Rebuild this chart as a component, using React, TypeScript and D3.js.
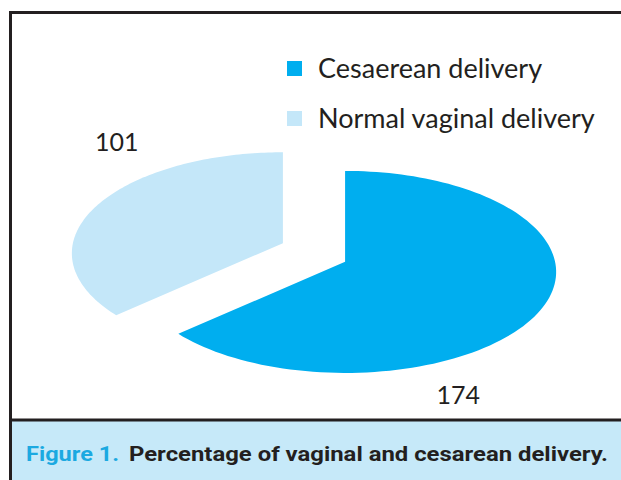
import React, { useEffect, useRef } from "react";
import * as d3 from "d3";

// chart values
const categories = ["Cesaerean delivery", "Normal vaginal delivery"];
const deliveries = [174, 101];
const sliceLabels = ["174", "101"];
const sliceColors = ["#00AEEF", "#C4E7F9"];

// label placement around each slice (angle in degrees, radius in slice radii)
const labelPolar = [
    { deg: 158, r: 1.27 },
    { deg: 322, r: 1.43 },
];

function App() {
    const chartRef = useRef<SVGSVGElement>(null);

    useEffect(() => {
        const w = 621;
        const h = 480;
        const svg = d3.select(chartRef.current);
        svg.selectAll("*").remove();

        // caption band + frame
        svg.append("rect").attr("x", 12).attr("y", 421).attr("width", w - 12).attr("height", h - 421).attr("fill", "#C6E9F9");
        svg.append("path").attr("d", `M10.5,${h} V12.5 H${w}`).attr("fill", "none").attr("stroke", "#231F20").attr("stroke-width", 3);
        svg.append("path").attr("d", `M9,420 H${w}`).attr("fill", "none").attr("stroke", "#231F20").attr("stroke-width", 3);

        // pie with a simple tilted / perspective projection
        const cx = 314;
        const cy = 252.5;
        const rx = 210;
        const ry = 100;
        const persp = 0.1;
        const explodeX = 34;
        const explodeY = 23;

        const pie = d3.pie<number>().sort(null).value(d => d);
        const arcs = pie(deliveries);

        const project = (ax: number, ay: number, a: number, r: number): [number, number] => {
            const ux = r * Math.sin(a);
            const uy = -r * Math.cos(a);
            const s = 1 / (1 - persp * uy);
            return [ax + rx * ux * s, ay + ry * uy * s];
        };
        const apexOf = (a: d3.PieArcDatum<number>): [number, number] => {
            const mid = (a.startAngle + a.endAngle) / 2;
            return [cx + explodeX * Math.sin(mid), cy - explodeY * Math.cos(mid)];
        };

        svg.append("clipPath").attr("id", "plotClip").append("rect").attr("x", 12).attr("y", 14).attr("width", 545).attr("height", 404);

        const line = d3.line();
        svg.append("g")
            .attr("clip-path", "url(#plotClip)")
            .selectAll("path")
            .data(arcs)
            .join("path")
            .attr("d", a => {
                const [ax, ay] = apexOf(a);
                const pts: [number, number][] = [[ax, ay]];
                d3.range(0, 121).forEach(i => {
                    pts.push(project(ax, ay, a.startAngle + ((a.endAngle - a.startAngle) * i) / 120, 1));
                });
                return line(pts) + "Z";
            })
            .attr("fill", (d, i) => sliceColors[i]);

        svg.append("g")
            .selectAll("text")
            .data(arcs)
            .join("text")
            .attr("transform", (a, i) => {
                const [ax, ay] = apexOf(a);
                const [x, y] = project(ax, ay, (labelPolar[i].deg * Math.PI) / 180, labelPolar[i].r);
                return `translate(${x},${y})`;
            })
            .attr("text-anchor", "middle")
            .attr("dy", "0.36em")
            .attr("font-family", "Lato, 'Open Sans', sans-serif")
            .attr("font-size", 25)
            .attr("fill", "#231F20")
            .text((d, i) => sliceLabels[i]);

        // legend
        const legendY = d3.scalePoint<string>().domain(categories).range([68.5, 118.5]);
        const legend = svg.append("g")
            .selectAll("g")
            .data(categories)
            .join("g")
            .attr("transform", d => `translate(287,${legendY(d)})`);
        legend.append("rect").attr("y", -7.5).attr("width", 15).attr("height", 15).attr("fill", (d, i) => sliceColors[i]);
        legend.append("text")
            .attr("x", 31)
            .attr("y", 9)
            .attr("font-family", "Lato, 'Open Sans', sans-serif")
            .attr("font-size", 27)
            .attr("fill", "#231F20")
            .text(d => d);

        // caption
        svg.append("text")
            .attr("x", 26)
            .attr("y", 461)
            .attr("font-family", "Roboto, 'Liberation Sans', sans-serif")
            .attr("font-weight", "bold")
            .attr("font-size", 21)
            .attr("textLength", 93)
            .attr("lengthAdjust", "spacingAndGlyphs")
            .attr("fill", "#1BA9E1")
            .text("Figure 1.");
        svg.append("text")
            .attr("x", 129)
            .attr("y", 461)
            .attr("font-family", "Roboto, 'Liberation Sans', sans-serif")
            .attr("font-weight", "bold")
            .attr("font-size", 21)
            .attr("textLength", 479)
            .attr("lengthAdjust", "spacingAndGlyphs")
            .attr("fill", "#231F20")
            .text("Percentage of vaginal and cesarean delivery.");
    }, []);

    return <svg ref={chartRef} width={621} height={480} style={{ position: "absolute", left: 0, top: 0, background: "#fff" }} />;
}

export default App;
